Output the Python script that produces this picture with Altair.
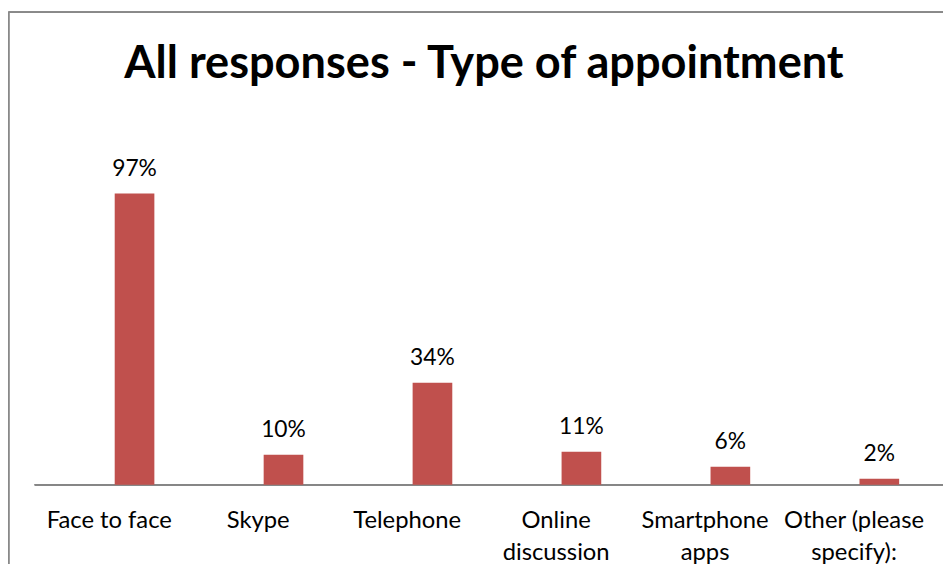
import altair as alt
import pandas as pd

title_text = ["All responses - Type of appointment"]
categories = ["Face to face", "Skype", "Telephone", "Online|discussion", "Smartphone|apps", "Other (please|specify):"]
values = [0.97, 0.10, 0.34, 0.11, 0.06, 0.02]
value_labels = ["97%", "10%", "34%", "11%", "6%", "2%"]

df = pd.DataFrame({"category": categories, "value": values, "label": value_labels})
title_df = pd.DataFrame({"t": title_text})

W, H = 916, 303
FONT = "Lato"

x = alt.X(
    "category:N",
    sort=categories,
    scale=alt.Scale(range=[0, 901.4], paddingInner=0, paddingOuter=0),
    axis=alt.Axis(
        title=None, domain=False, ticks=False, grid=False,
        labelExpr="split(datum.label, '|')",
        labelFont=FONT, labelFontSize=24, labelColor="black",
        labelPadding=43, labelLineHeight=32.4, labelAngle=0,
        labelBaseline="alphabetic", labelLimit=0,
    ),
)
y = alt.Y("value:Q", scale=alt.Scale(domain=[0, 1], nice=False, zero=True), axis=None)

base = alt.Chart(df)

bars = base.mark_bar(size=40, xOffset=25.5, color="#C0504D").encode(x=x, y=y)
texts = base.mark_text(dx=25.5, dy=-17.5, baseline="alphabetic", font=FONT, fontSize=23, color="black").encode(
    x=x, y=y, text="label:N"
)
axis_line = base.mark_rule(color="#868686", strokeWidth=1.5).encode(
    x=alt.value(0), x2=alt.value(W), y=alt.value(H)
)
border_left = base.mark_rule(color="#898989", strokeWidth=1.5).encode(
    x=alt.value(-26.5), y=alt.value(-173.5), y2=alt.value(H + 120)
)
border_top = base.mark_rule(color="#898989", strokeWidth=1.5).encode(
    x=alt.value(-26.5), x2=alt.value(W + 10), y=alt.value(-173.5)
)
title = alt.Chart(title_df).mark_text(
    font=FONT, fontSize=45.5, fontWeight="bold", color="black", baseline="alphabetic", align="center"
).encode(text="t:N", x=alt.value(453), y=alt.value(-107.5))

chart = alt.layer(border_left, border_top, axis_line, bars, texts, title).properties(
    width=W,
    height=H,
    autosize=alt.AutoSizeParams(type="none"),
    padding={"left": 27, "top": 175.5, "right": 0, "bottom": 77.5},
).configure_view(stroke=None)

chart.save("out.html", embed_options={"renderer": "svg", "actions": False})
